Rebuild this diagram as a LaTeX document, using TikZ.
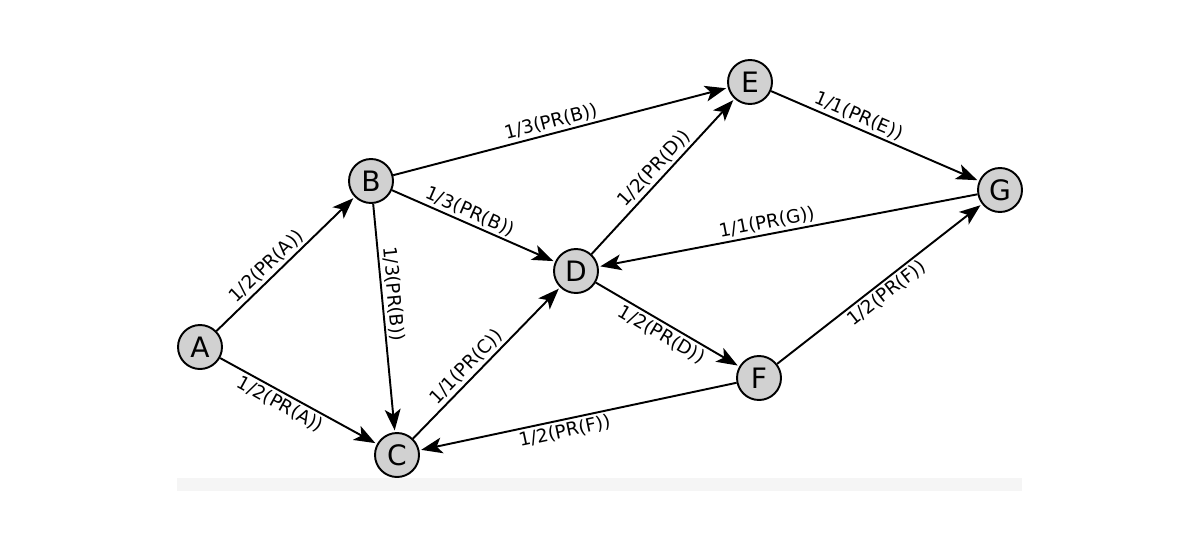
\documentclass[tikz,border=0pt]{standalone}
\usepackage{fontspec}
\setmainfont{DejaVu Sans}
\usetikzlibrary{arrows.meta}
\begin{document}
\begin{tikzpicture}[
  v/.style={circle,draw,fill=black!18,line width=1.1pt,minimum size=0.88cm,inner sep=0pt,font=\fontsize{16}{16}\selectfont},
  e/.style={line width=1.1pt,-{Stealth[length=12pt,width=9pt,inset=3pt]},shorten >=1pt},
  l/.style={font=\fontsize{10.5}{11}\selectfont,sloped,inner sep=1.5pt}]
\useasboundingbox (0,0) rectangle (24,10.7);
\fill[black!4] (3.54,0.88) rectangle (20.44,1.14);
\node[v] (A) at (4.00,3.76) {A};
\node[v] (B) at (7.42,7.08) {B};
\node[v] (C) at (7.94,1.60) {C};
\node[v] (D) at (11.52,5.28) {D};
\node[v] (E) at (15.00,9.06) {E};
\node[v] (F) at (15.18,3.14) {F};
\node[v] (G) at (20.00,6.90) {G};
\draw[e] (A) -- node[l,above,pos=0.42]{1/2(PR(A))} (B);
\draw[e] (A) -- node[l,below,pos=0.42]{1/2(PR(A))} (C);
\draw[e] (B) -- node[l,above,pos=0.4]{1/3(PR(B))} (C);
\draw[e] (B) -- node[l,above,pos=0.45]{1/3(PR(B))} (D);
\draw[e] (B) -- node[l,above,pos=0.48]{1/3(PR(B))} (E);
\draw[e] (C) -- node[l,above,pos=0.42]{1/1(PR(C))} (D);
\draw[e] (D) -- node[l,above,pos=0.5]{1/2(PR(D))} (E);
\draw[e] (D) -- node[l,below,pos=0.5]{1/2(PR(D))} (F);
\draw[e] (E) -- node[l,above,pos=0.4]{1/1(PR(E))} (G);
\draw[e] (G) -- node[l,above,pos=0.55]{1/1(PR(G))} (D);
\draw[e] (F) -- node[l,below,pos=0.5]{1/2(PR(F))} (G);
\draw[e] (F) -- node[l,below,pos=0.55]{1/2(PR(F))} (C);
\end{tikzpicture}
\end{document}
